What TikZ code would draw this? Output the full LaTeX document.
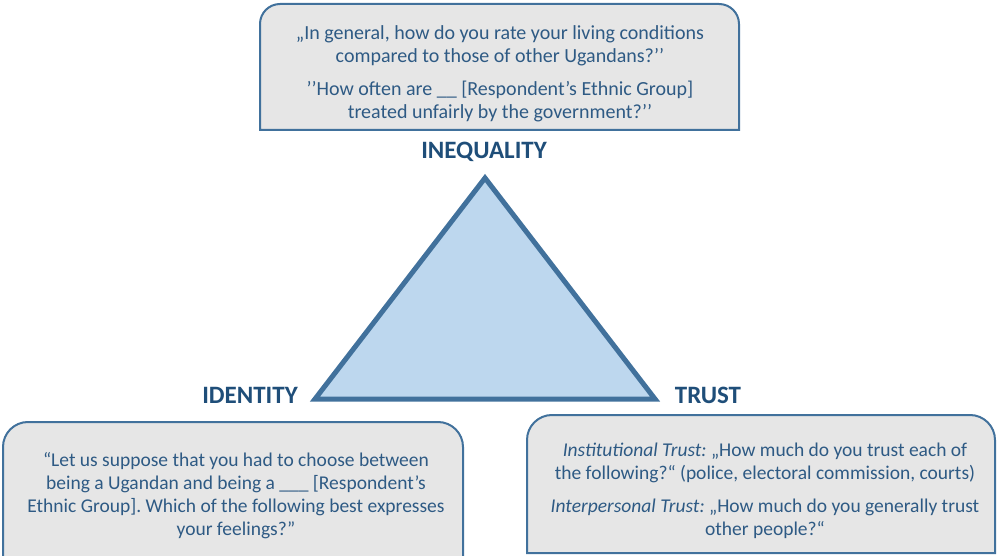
\documentclass[tikz,border=0pt]{standalone}
\usepackage{fontspec}
\setmainfont{Carlito}
\usetikzlibrary{calc}
\frenchspacing

\definecolor{boxblue}{HTML}{41719C}
\definecolor{boxgray}{HTML}{E6E6E6}
\definecolor{txtblue}{HTML}{2E5A84}
\definecolor{lblblue}{HTML}{1F4E79}
\definecolor{trifill}{HTML}{BDD7EE}

\tikzset{
    qbox/.style={draw=boxblue, line width=2pt, fill=boxgray},
    qtext/.style={text=txtblue, align=center, inner sep=0pt, font=\fontsize{19.5}{23}\selectfont},
    cornerlbl/.style={text=lblblue, inner sep=0pt, font=\fontsize{25}{28}\selectfont\bfseries},
    tri/.style={draw=boxblue, line width=5pt, fill=trifill, line join=miter}
}

\begin{document}
\begin{tikzpicture}[x=1pt, y=1pt]
    \useasboundingbox (0,0) rectangle (997,-556);
    \clip (0,0) rectangle (997,-556);

    % Question boxes (rounded on top only)
    \draw[qbox] (260,-130) -- (260,-24) arc[start angle=180, end angle=90, radius=20]
        -- (719,-4) arc[start angle=90, end angle=0, radius=20] -- (739,-130) -- cycle;
    \draw[qbox] (3,-575) -- (3,-447) arc[start angle=180, end angle=90, radius=25]
        -- (438,-422) arc[start angle=90, end angle=0, radius=25] -- (463,-575) -- cycle;
    \draw[qbox] (527,-553) -- (527,-440) arc[start angle=180, end angle=90, radius=25]
        -- (970,-415) arc[start angle=90, end angle=0, radius=25] -- (995,-553) -- cycle;

    % Question texts
    \node[qtext, font=\fontsize{20}{23}\selectfont] (qineq) at (500,-74) {„In general, how do you rate your living conditions\\
        compared to those of other Ugandans?’’\\[10pt]
        ’’How often are \_\_ [Respondent’s Ethnic Group]\\
        treated unfairly by the government?’’};
    \node[qtext] (qiden) at (236,-496) {“Let us suppose that you had to choose between\\
        being a Ugandan and being a \_\_\_ [Respondent’s\\
        Ethnic Group]. Which of the following best expresses\\
        your feelings?”};
    \node[qtext] (qtrust) at (765,-491) {\textit{Institutional Trust:} „How much do you trust each of\\
        the following?“ (police, electoral commission, courts)\\[10pt]
        \textit{Interpersonal Trust:} „How much do you generally trust\\
        other people?“};

    % Triangle
    \coordinate (ineq) at (485,-178);
    \coordinate (iden) at (315,-399);
    \coordinate (trust) at (655,-399);
    \draw[tri] (ineq) -- (iden) -- (trust) -- cycle;

    % Corner labels
    \node[cornerlbl] (lineq) at (484,-152) {INEQUALITY};
    \node[cornerlbl] (liden) at (250,-395) {IDENTITY};
    \node[cornerlbl] (ltrust) at (708,-395) {TRUST};
\end{tikzpicture}
\end{document}
